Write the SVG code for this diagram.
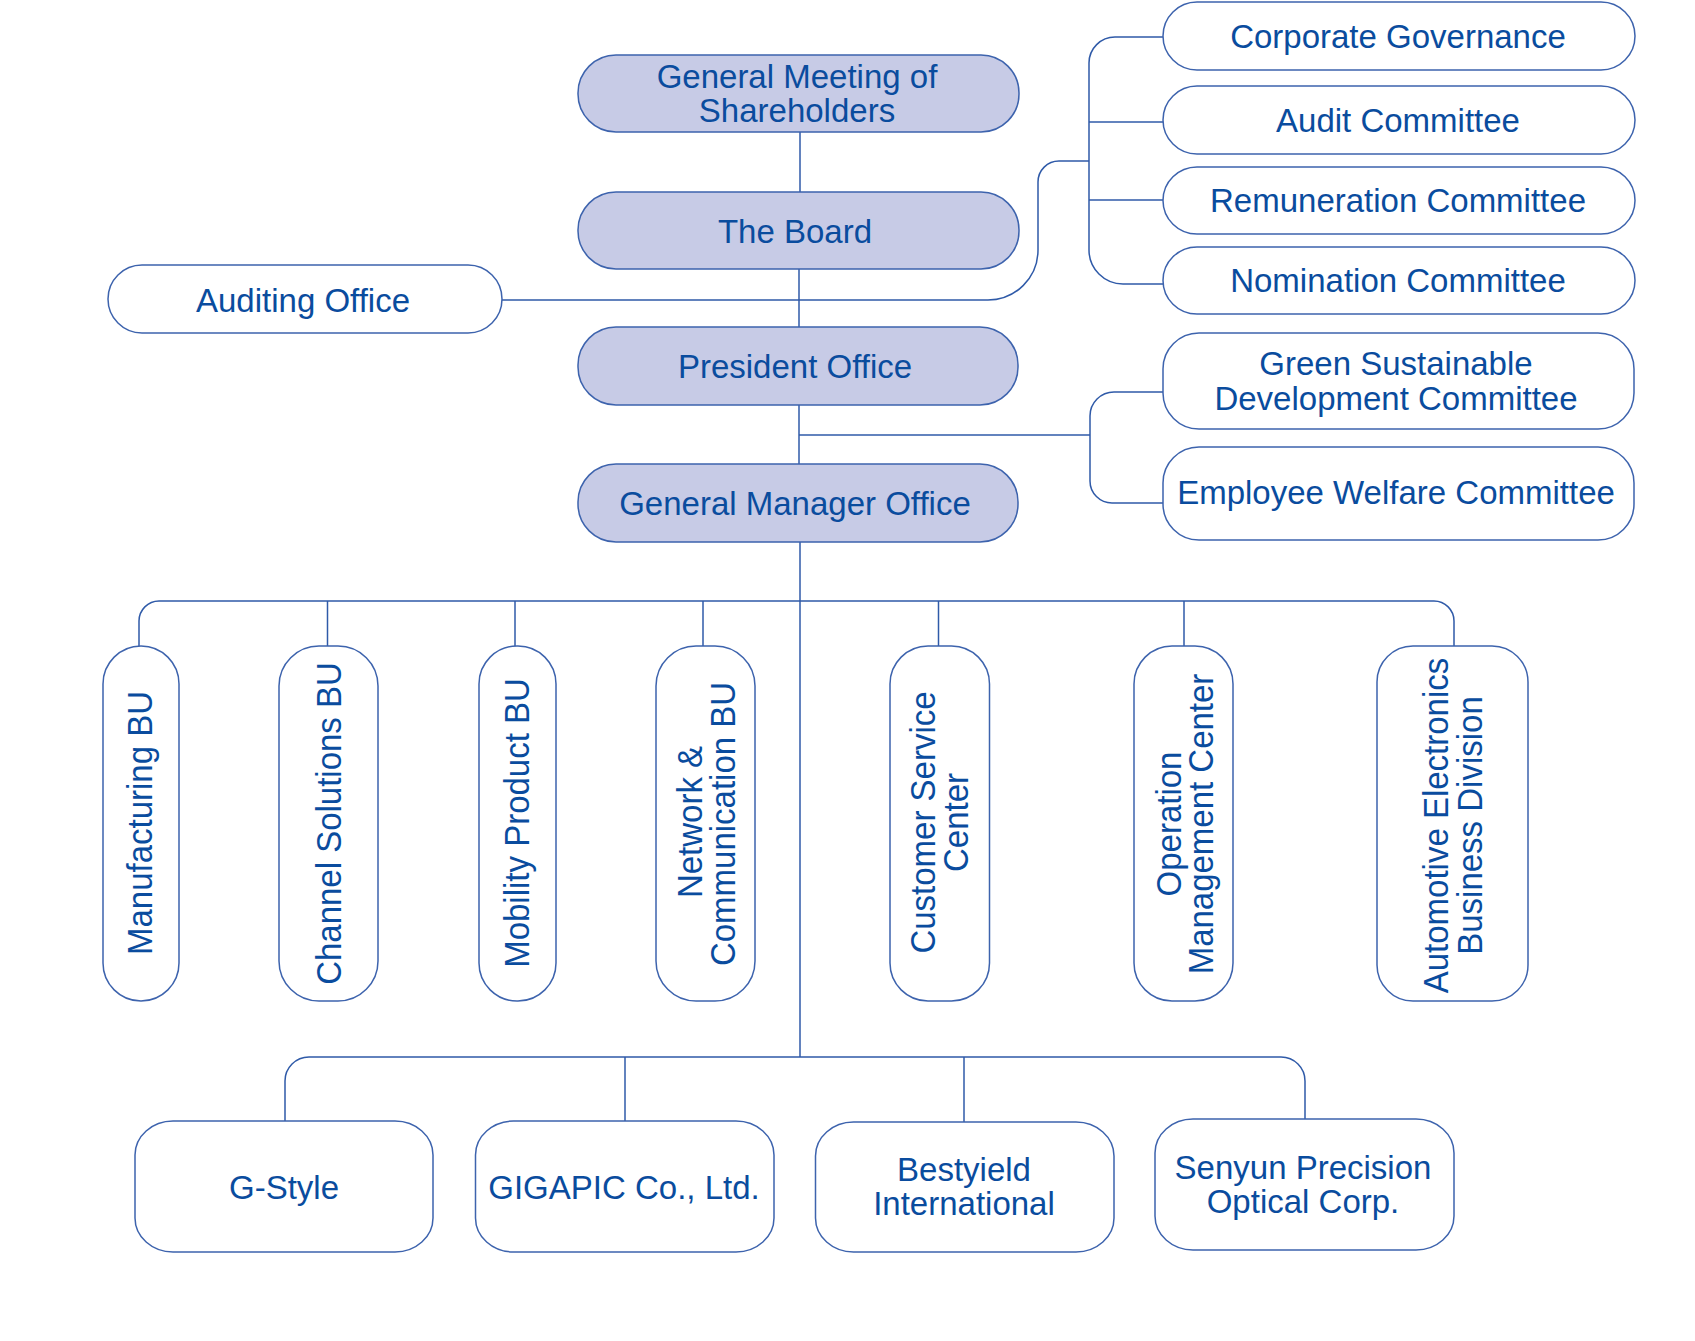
<svg xmlns="http://www.w3.org/2000/svg" width="1695" height="1341" viewBox="0 0 1695 1341">
<style>
  .box { fill: #ffffff; stroke: #3d63ad; stroke-width: 1.5; }
  .main { fill: #c7cbe6; stroke: #3d63ad; stroke-width: 1.5; }
  .t { font-family: "Liberation Sans", Arial, Helvetica, sans-serif; font-size: 33px; fill: #0a4c9e; text-anchor: middle; }
  .con { fill: none; stroke: #2f5aa8; stroke-width: 1.5; }
</style>
<rect width="1695" height="1341" fill="#ffffff"/>

<g id="connectors">
  <path class="con" d="M800,132 V192"/>
  <path class="con" d="M799,269 V327"/>
  <path class="con" d="M799,405 V464"/>
  <path class="con" d="M800,542 V1057"/>
  <path class="con" d="M502,300 H988 A50,50 0 0 0 1038,250 V182 A21,21 0 0 1 1059,161 H1089"/>
  <path class="con" d="M1163,37 H1115 A26,26 0 0 0 1089,63 V250 A34,34 0 0 0 1123,284 H1163"/>
  <path class="con" d="M1089,122 H1163"/>
  <path class="con" d="M1089,200 H1163"/>
  <path class="con" d="M799,435 H1090"/>
  <path class="con" d="M1163,392 H1114 A24,24 0 0 0 1090,416 V481 A22,22 0 0 0 1112,503 H1163"/>
  <path class="con" d="M139,646 V621 A20,20 0 0 1 159,601 H1434 A20,20 0 0 1 1454,621 V646"/>
  <path class="con" d="M327.5,601 V646"/>
  <path class="con" d="M515,601 V646"/>
  <path class="con" d="M703,601 V646"/>
  <path class="con" d="M938.5,601 V646"/>
  <path class="con" d="M1184,601 V646"/>
  <path class="con" d="M285,1121 V1081 A24,24 0 0 1 309,1057 H1281 A24,24 0 0 1 1305,1081 V1119"/>
  <path class="con" d="M625,1057 V1121"/>
  <path class="con" d="M964,1057 V1122"/>
</g>

<g id="general-meeting">
  <rect class="main" x="578" y="55" width="441" height="77" rx="38"/>
  <text class="t" x="797" y="88">General Meeting of</text>
  <text class="t" x="797" y="122">Shareholders</text>
</g>
<g id="board">
  <rect class="main" x="578" y="192" width="441" height="77" rx="38"/>
  <text class="t" x="795" y="243">The Board</text>
</g>
<g id="president-office">
  <rect class="main" x="578" y="327" width="440" height="78" rx="38"/>
  <text class="t" x="795" y="378">President Office</text>
</g>
<g id="general-manager-office">
  <rect class="main" x="578" y="464" width="440" height="78" rx="38"/>
  <text class="t" x="795" y="515">General Manager Office</text>
</g>
<g id="auditing-office">
  <rect class="box" x="108" y="265" width="394" height="68" rx="34"/>
  <text class="t" x="303" y="312">Auditing Office</text>
</g>

<g id="corporate-governance">
  <rect class="box" x="1163" y="2" width="472" height="68" rx="34"/>
  <text class="t" x="1398" y="48">Corporate Governance</text>
</g>
<g id="audit-committee">
  <rect class="box" x="1163" y="86" width="472" height="68" rx="34"/>
  <text class="t" x="1398" y="132">Audit Committee</text>
</g>
<g id="remuneration-committee">
  <rect class="box" x="1163" y="167" width="472" height="67" rx="34"/>
  <text class="t" x="1398" y="212">Remuneration Committee</text>
</g>
<g id="nomination-committee">
  <rect class="box" x="1163" y="247" width="472" height="67" rx="34"/>
  <text class="t" x="1398" y="292">Nomination Committee</text>
</g>
<g id="green-committee">
  <rect class="box" x="1163" y="333" width="471" height="96" rx="36"/>
  <text class="t" x="1396" y="375">Green Sustainable</text>
  <text class="t" x="1396" y="410">Development Committee</text>
</g>
<g id="employee-welfare">
  <rect class="box" x="1163" y="447" width="471" height="93" rx="36"/>
  <text class="t" x="1396" y="504">Employee Welfare Committee</text>
</g>

<g id="manufacturing-bu">
  <rect class="box" x="103" y="646" width="76" height="355" rx="38"/>
  <text class="t" transform="translate(152,823) rotate(-90) scale(1,1.07)">Manufacturing BU</text>
</g>
<g id="channel-solutions-bu">
  <rect class="box" x="279" y="646" width="99" height="355" rx="40"/>
  <text class="t" transform="translate(340.5,823.5) rotate(-90) scale(1,1.07)">Channel Solutions BU</text>
</g>
<g id="mobility-product-bu">
  <rect class="box" x="479" y="646" width="77" height="355" rx="38"/>
  <text class="t" transform="translate(529,823) rotate(-90) scale(1,1.07)">Mobility Product BU</text>
</g>
<g id="network-communication-bu">
  <rect class="box" x="656" y="646" width="99" height="355" rx="40"/>
  <text class="t" transform="translate(701.5,822) rotate(-90) scale(1,1.07)">Network &amp;</text>
  <text class="t" transform="translate(735,824) rotate(-90) scale(1,1.07)">Communication BU</text>
</g>
<g id="customer-service-center">
  <rect class="box" x="890" y="646" width="99.5" height="355" rx="38"/>
  <text class="t" transform="translate(935,822.5) rotate(-90) scale(1,1.07)">Customer Service</text>
  <text class="t" transform="translate(968,822.5) rotate(-90) scale(1,1.07)">Center</text>
</g>
<g id="operation-management-center">
  <rect class="box" x="1134" y="646" width="99" height="355" rx="38"/>
  <text class="t" transform="translate(1180.5,824) rotate(-90) scale(1,1.07)">Operation</text>
  <text class="t" transform="translate(1213,824) rotate(-90) scale(1,1.07)">Management Center</text>
</g>
<g id="automotive-electronics">
  <rect class="box" x="1377" y="646" width="151" height="355" rx="36"/>
  <text class="t" transform="translate(1448,825.5) rotate(-90) scale(1,1.07)">Automotive Electronics</text>
  <text class="t" transform="translate(1482,825.5) rotate(-90) scale(1,1.07)">Business Division</text>
</g>

<g id="g-style">
  <rect class="box" x="135" y="1121" width="298" height="131" rx="38" ry="34"/>
  <text class="t" x="284" y="1199">G-Style</text>
</g>
<g id="gigapic">
  <rect class="box" x="475.5" y="1121" width="298.5" height="131" rx="38" ry="34"/>
  <text class="t" x="624" y="1199">GIGAPIC Co., Ltd.</text>
</g>
<g id="bestyield">
  <rect class="box" x="815.5" y="1122" width="298.5" height="130" rx="38" ry="34"/>
  <text class="t" x="964" y="1181">Bestyield</text>
  <text class="t" x="964" y="1215">International</text>
</g>
<g id="senyun">
  <rect class="box" x="1155" y="1119" width="299" height="131" rx="38" ry="34"/>
  <text class="t" x="1303" y="1179">Senyun Precision</text>
  <text class="t" x="1303" y="1213">Optical Corp.</text>
</g>
</svg>
